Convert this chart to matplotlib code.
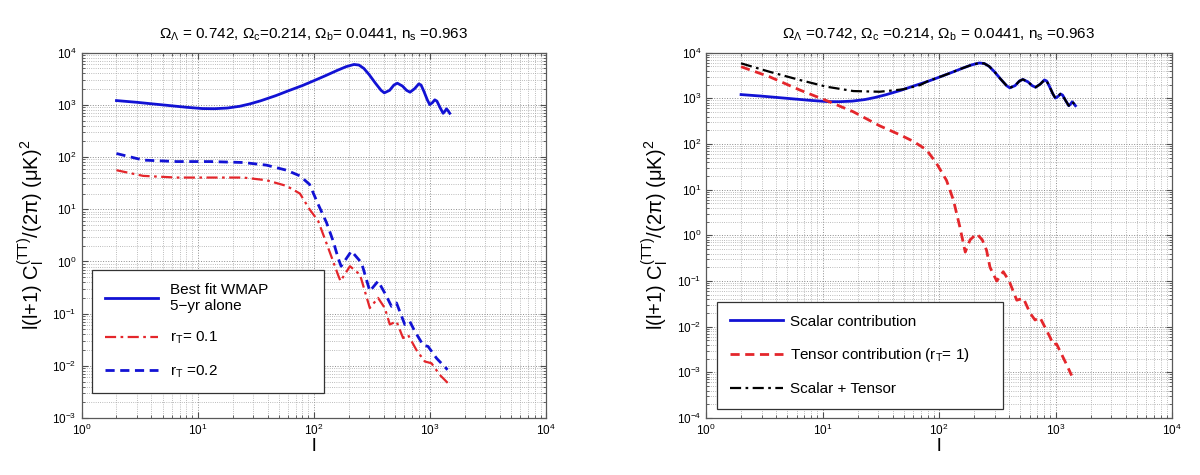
import matplotlib
matplotlib.use("Agg")
import matplotlib.pyplot as plt
from matplotlib.ticker import FixedLocator, NullFormatter, LogFormatterMathtext

plt.rcParams['font.family'] = ['Liberation Sans', 'DejaVu Sans']
plt.rcParams['mathtext.fontset'] = 'custom'
plt.rcParams['mathtext.rm'] = 'Liberation Sans'
plt.rcParams['mathtext.it'] = 'Liberation Sans:italic'
plt.rcParams['mathtext.cal'] = 'Liberation Sans'

# ---------------- data ----------------
scalar_l = [2, 3, 4, 6, 8, 11, 14, 18, 23, 28, 35, 47, 60, 80, 100, 127, 160, 190, 222,
            245, 270, 300, 340, 380, 405, 450, 490, 525, 580, 630, 675, 740, 803, 840,
            890, 950, 997, 1050, 1102, 1150, 1220, 1300, 1350, 1390, 1430, 1483]
scalar_C = [1210, 1120, 1050, 960, 900, 850, 845, 870, 940, 1040, 1200, 1500, 1850, 2350,
            2900, 3650, 4600, 5400, 5950, 5800, 5000, 3800, 2600, 1900, 1700, 1900, 2400,
            2600, 2300, 1900, 1750, 2050, 2530, 2400, 1800, 1250, 1013, 1100, 1250, 1180,
            900, 690, 760, 840, 780, 690]

r01_l = [2, 3.4, 6.6, 12.8, 24.7, 39.2, 58.3, 76, 92, 109, 129, 147, 162, 170, 205, 250,
         304, 358, 409, 452, 516, 588, 649, 767, 904, 1032, 1217, 1483]
r01_C = [56, 43.6, 40.5, 40.5, 40.5, 36, 28, 20, 10, 6, 2.2, 1.0, 0.55, 0.42, 0.81, 0.56,
         0.128, 0.2, 0.128, 0.062, 0.071, 0.034, 0.039, 0.02, 0.0121, 0.0112, 0.0067, 0.0043]

r02_l = [2, 3.4, 6.6, 12.8, 24.7, 39.2, 58.3, 76, 92, 109, 129, 147, 162, 172, 211, 258,
         304, 358, 417, 467, 516, 608, 671, 741, 874, 965, 1140, 1420]
r02_C = [117, 87.5, 82, 82, 78.7, 70, 56, 43.6, 30, 12.5, 5.5, 2.45, 1.17, 0.81, 1.58, 0.94,
         0.27, 0.42, 0.23, 0.138, 0.16, 0.062, 0.071, 0.046, 0.025, 0.0235, 0.014, 0.0084]

tensor_l = [2, 3.5, 6.4, 10.9, 18.4, 31, 46, 60, 78, 95, 116, 133, 151, 168, 185, 211, 235,
            256, 274, 313, 356, 400, 465, 530, 604, 667, 735, 897, 960, 1020, 1200, 1377]
tensor_C = [4930, 2980, 1520, 887, 508, 250, 160, 115, 75, 38, 16, 5.9, 1.53, 0.43, 0.8,
            1.08, 0.8, 0.47, 0.2, 0.1, 0.16, 0.1, 0.038, 0.042, 0.02, 0.014, 0.016, 0.0059,
            0.004, 0.0042, 0.0018, 0.00085]

sum_l = [2, 3.5, 6.4, 10.9, 18.4, 31, 49, 69, 80, 100, 127, 160, 190, 222, 245, 270, 300,
         340, 380, 405, 450, 490, 525, 580, 630, 675, 740, 803, 840, 890, 950, 997, 1050,
         1102, 1150, 1220, 1300, 1350, 1390, 1430, 1483]
sum_C = [5850, 3830, 2520, 1795, 1445, 1397, 1574, 1955, 2380, 2900, 3650, 4600, 5400, 5950,
         5800, 5000, 3800, 2600, 1900, 1700, 1900, 2400, 2600, 2300, 1900, 1750, 2050, 2530,
         2400, 1800, 1250, 1013, 1100, 1250, 1180, 900, 690, 760, 840, 780, 690]

x_exps = [0, 1, 2, 3, 4]
y_exps_left = [-3, -2, -1, 0, 1, 2, 3, 4]
y_exps_right = [-4, -3, -2, -1, 0, 1, 2, 3, 4]

title_left = (r'$\Omega_\Lambda$ = 0.742, $\Omega_\mathrm{c}$=0.214, '
              r'$\Omega_\mathrm{b}$= 0.0441, n$_\mathrm{s}$ =0.963')
title_right = (r'$\Omega_\Lambda$ =0.742, $\Omega_\mathrm{c}$ =0.214, '
               r'$\Omega_\mathrm{b}$ = 0.0441, n$_\mathrm{s}$ =0.963')
ylabel = 'l(l+1) C$_\\mathrm{l}^\\mathrm{(TT)}$/(2\u03c0) (\u03bcK)$^\\mathrm{2}$'

BLUE = '#1212d4'
RED = '#e4262b'

W, H = 1200, 475
fig = plt.figure(figsize=(12, 4.75), dpi=100)
ax1 = fig.add_axes([81.5 / W, (H - 418) / H, 464.5 / W, 365.3 / H])
ax2 = fig.add_axes([706 / W, (H - 418) / H, 466 / W, 365.3 / H])


def minors(exps):
    return [m * 10.0 ** e for e in exps[:-1] for m in range(2, 10)]


def style(ax, yexps):
    ax.set_xscale('log')
    ax.set_yscale('log')
    ax.set_xlim(10.0 ** x_exps[0], 10.0 ** x_exps[-1])
    ax.set_ylim(10.0 ** yexps[0], 10.0 ** yexps[-1])
    ax.xaxis.set_major_locator(FixedLocator([10.0 ** e for e in x_exps]))
    ax.yaxis.set_major_locator(FixedLocator([10.0 ** e for e in yexps]))
    ax.xaxis.set_minor_locator(FixedLocator(minors(x_exps)))
    ax.yaxis.set_minor_locator(FixedLocator(minors(yexps)))
    ax.xaxis.set_major_formatter(LogFormatterMathtext())
    ax.yaxis.set_major_formatter(LogFormatterMathtext())
    ax.xaxis.set_minor_formatter(NullFormatter())
    ax.yaxis.set_minor_formatter(NullFormatter())
    ax.grid(True, which='major', ls=':', color='0.55', lw=0.7)
    ax.grid(True, which='minor', ls=':', color='0.65', lw=0.6)
    ax.tick_params(which='both', direction='in', top=True, right=True, labelsize=8.5,
                   color='0.3')
    ax.tick_params(which='major', length=4)
    ax.tick_params(which='minor', length=2)
    for s in ax.spines.values():
        s.set_color('0.35')
        s.set_linewidth(0.9)
    ax.set_xlabel('l', fontsize=14, labelpad=0)
    ax.set_ylabel(ylabel, fontsize=14.5, labelpad=4)


style(ax1, y_exps_left)
style(ax2, y_exps_right)

ax1.plot(scalar_l, scalar_C, color=BLUE, lw=2, label='Best fit WMAP\n5\u2212yr alone')
ax1.plot(r01_l, r01_C, color=RED, lw=1.6, ls=(0, (5, 2, 1.2, 2)), label=r'r$_\mathrm{T}$= 0.1')
ax1.plot(r02_l, r02_C, color=BLUE, lw=2, ls=(0, (3.3, 2)), label=r'r$_\mathrm{T}$ =0.2')
ax1.set_title(title_left, fontsize=11, pad=10)

ax2.plot(scalar_l, scalar_C, color=BLUE, lw=2, label='Scalar contribution')
ax2.plot(tensor_l, tensor_C, color=RED, lw=2, ls=(0, (3.3, 2)),
         label=r'Tensor contribution (r$_\mathrm{T}$= 1)')
ax2.plot(sum_l, sum_C, color='black', lw=1.6, ls=(0, (5, 2, 1.2, 2)), label='Scalar + Tensor')
ax2.set_title(title_right, fontsize=11, pad=10)

leg1 = ax1.legend(loc='upper left', bbox_to_anchor=(0.022, 0.068, 0.499, 0.337),
                  mode='expand', borderaxespad=0, fontsize=11, handlelength=3.5,
                  labelspacing=1.1, fancybox=False, framealpha=1, edgecolor='0.2',
                  borderpad=0.85, handletextpad=0.8)
leg1.get_frame().set_linewidth(0.9)
leg2 = ax2.legend(loc='upper left', bbox_to_anchor=(0.023, 0.022, 0.615, 0.296),
                  mode='expand', borderaxespad=0, fontsize=11, handlelength=3.5,
                  labelspacing=1.15, fancybox=False, framealpha=1, edgecolor='0.2',
                  borderpad=0.85, handletextpad=0.45)
leg2.get_frame().set_linewidth(0.9)

fig.savefig('out.png', dpi=100, facecolor='white')
